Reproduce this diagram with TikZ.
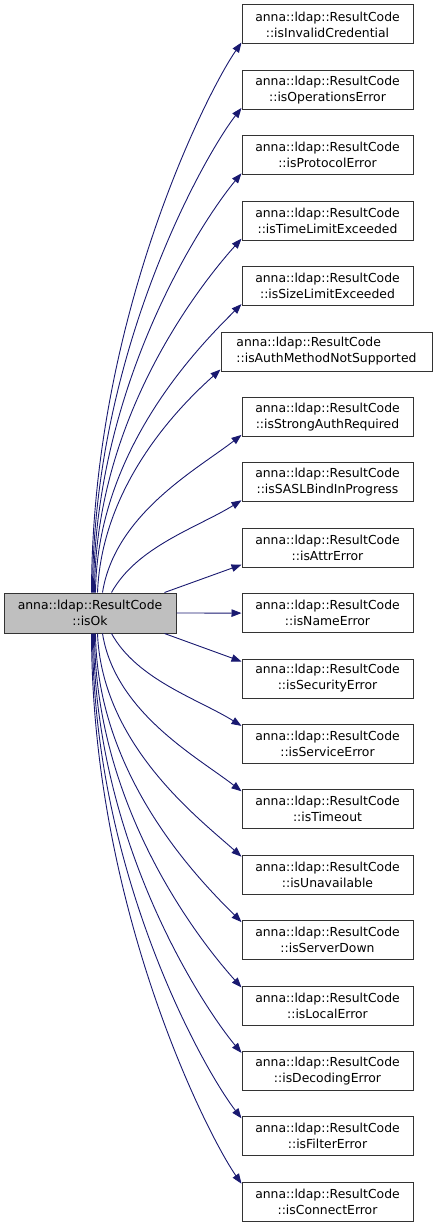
\documentclass[tikz,border=0pt]{standalone}
\usepackage{fontspec}
\setmainfont{DejaVu Sans}
\usetikzlibrary{arrows.meta}
\definecolor{edgec}{HTML}{191970}
\definecolor{srcfill}{HTML}{BFBFBF}
\definecolor{boxline}{HTML}{333333}
\tikzset{
  box/.style={draw=boxline, line width=1pt, inner sep=0pt, minimum height=39pt, align=center,
    font=\fontsize{12.4}{16}\selectfont},
  srcbox/.style={box, fill=srcfill, minimum width=172pt, minimum height=40pt},
  tgt/.style={box, fill=white, minimum width=171pt},
  edge/.style={draw=edgec, line width=0.9pt, -{Triangle[length=10pt,width=7.5pt]}}
}
\begin{document}
\begin{tikzpicture}[x=1pt,y=1pt]
\useasboundingbox (0,0) rectangle (437,-1228);
\node[srcbox] (src) at (90,-613) {anna::ldap::ResultCode\\::isOk};
\foreach \i/\lbl in {0/isInvalidCredential,1/isOperationsError,2/isProtocolError,3/isTimeLimitExceeded,4/isSizeLimitExceeded,6/isStrongAuthRequired,7/isSASLBindInProgress,8/isAttrError,9/isNameError,10/isSecurityError,11/isServiceError,12/isTimeout,13/isUnavailable,14/isServerDown,15/isLocalError,16/isDecodingError,17/isFilterError,18/isConnectError}{
  \node[tgt] (t\i) at (327.5,{-(24.5+65.4*\i)}) {anna::ldap::ResultCode\\::\lbl};
}
\node[box, fill=white, minimum width=211pt, align=left] (t5) at (326.5,{-(24.5+65.4*5)}) {anna::ldap::ResultCode\\::isAuthMethodNotSupported};
% edges to targets above
\foreach \i/\xs/\th/\xe/\dx in {0/92/55/242/0,1/93/52/242/0,2/94/50/242/0,3/95/48/242/0,4/96/45/242/1,5/98/42/221/4,6/103/38/242/12,7/112/32/242/25}{
  \pgfmathsetmacro\yS{-593}
  \pgfmathsetmacro\yE{-(42+65.4*\i)}
  \pgfmathsetmacro\cax{\xs+\dx}
  \pgfmathsetmacro\cay{\yS+0.5*(\yE-\yS)}
  \pgfmathsetmacro\aa{0.4*(\xe-\xs)}
  \pgfmathsetmacro\cbx{\xe-\aa*cos(\th)}
  \pgfmathsetmacro\cby{\yE-\aa*sin(\th)}
  \pgfmathsetmacro\sh{\xs-4}
  \draw[edge] ([xshift=\sh pt]src.north west) .. controls (\cax,\cay) and (\cbx,\cby) .. ([yshift=2pt]t\i.south west);
}
% edges to targets below
\foreach \i/\xs/\th/\dx in {11/112/32/25,12/103/38/12,13/98/42/4,14/96/45/1,15/95/48/0,16/94/50/0,17/93/52/0,18/92/55/0}{
  \pgfmathsetmacro\yS{-633}
  \pgfmathsetmacro\yE{-(7+65.4*\i)}
  \pgfmathsetmacro\cax{\xs+\dx}
  \pgfmathsetmacro\cay{\yS+0.5*(\yE-\yS)}
  \pgfmathsetmacro\aa{0.4*(242-\xs)}
  \pgfmathsetmacro\cbx{242-\aa*cos(\th)}
  \pgfmathsetmacro\cby{\yE+\aa*sin(\th)}
  \pgfmathsetmacro\sh{\xs-4}
  \draw[edge] ([xshift=\sh pt]src.south west) .. controls (\cax,\cay) and (\cbx,\cby) .. ([yshift=-2pt]t\i.north west);
}
\draw[edge] ([xshift=-12pt]src.north east) -- ([yshift=3pt]t8.south west);
\draw[edge] (src.east) -- (t9.west);
\draw[edge] ([xshift=-12pt]src.south east) -- ([yshift=-3pt]t10.north west);
\end{tikzpicture}
\end{document}
